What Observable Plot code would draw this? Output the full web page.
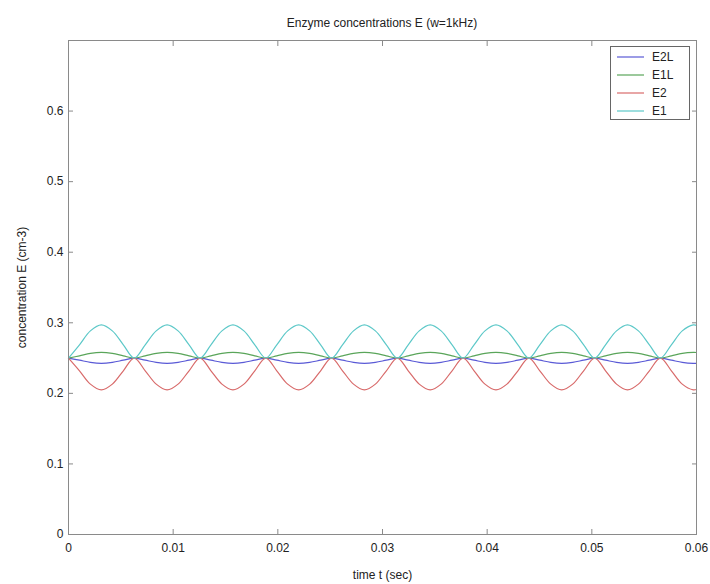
<!DOCTYPE html>
<html><head><meta charset="utf-8">
<script src="https://cdn.jsdelivr.net/npm/d3@7"></script>
<script src="https://cdn.jsdelivr.net/npm/@observablehq/plot@0.6"></script>
<style>
body{margin:0;background:#fff;font-family:"Liberation Sans",Arial,Helvetica,sans-serif;}
#wrap{position:relative;width:710px;height:584px;overflow:hidden;}
#title{position:absolute;left:68px;width:628px;top:16px;text-align:center;font-size:12px;color:#222;}
#legend{position:absolute;left:610px;top:46px;width:78px;height:72px;border:1px solid #666;background:#fff;}
#legend svg{display:block;}
</style></head>
<body>
<div id="wrap">
<div id="chart"></div>
<div id="title">Enzyme concentrations E (w=1kHz)</div>
<div id="legend"></div>
</div>
<script>
const t = [
  0, 0.00105, 0.00209, 0.00314, 0.00419, 0.00524,
  0.00628, 0.00733, 0.00838, 0.00942, 0.01047, 0.01152,
  0.01257, 0.01361, 0.01466, 0.01571, 0.01676, 0.0178,
  0.01885, 0.0199, 0.02094, 0.02199, 0.02304, 0.02409,
  0.02513, 0.02618, 0.02723, 0.02827, 0.02932, 0.03037,
  0.03142, 0.03246, 0.03351, 0.03456, 0.0356, 0.03665,
  0.0377, 0.03875, 0.03979, 0.04084, 0.04189, 0.04294,
  0.04398, 0.04503, 0.04608, 0.04712, 0.04817, 0.04922,
  0.05027, 0.05131, 0.05236, 0.05341, 0.05445, 0.0555,
  0.05655, 0.0576, 0.05864, 0.05969, 0.06
];
const E2L = [
  0.25, 0.247, 0.2439, 0.2425, 0.2439, 0.247,
  0.25, 0.247, 0.2439, 0.2425, 0.2439, 0.247,
  0.25, 0.247, 0.2439, 0.2425, 0.2439, 0.247,
  0.25, 0.247, 0.2439, 0.2425, 0.2439, 0.247,
  0.25, 0.247, 0.2439, 0.2425, 0.2439, 0.247,
  0.25, 0.247, 0.2439, 0.2425, 0.2439, 0.247,
  0.25, 0.247, 0.2439, 0.2425, 0.2439, 0.247,
  0.25, 0.247, 0.2439, 0.2425, 0.2439, 0.247,
  0.25, 0.247, 0.2439, 0.2425, 0.2439, 0.247,
  0.25, 0.247, 0.2439, 0.2425, 0.2426
];
const E1L = [
  0.25, 0.2532, 0.2566, 0.258, 0.2566, 0.2532,
  0.25, 0.2532, 0.2566, 0.258, 0.2566, 0.2532,
  0.25, 0.2532, 0.2566, 0.258, 0.2566, 0.2532,
  0.25, 0.2532, 0.2566, 0.258, 0.2566, 0.2532,
  0.25, 0.2532, 0.2566, 0.258, 0.2566, 0.2532,
  0.25, 0.2532, 0.2566, 0.258, 0.2566, 0.2532,
  0.25, 0.2532, 0.2566, 0.258, 0.2566, 0.2532,
  0.25, 0.2532, 0.2566, 0.258, 0.2566, 0.2532,
  0.25, 0.2532, 0.2566, 0.258, 0.2566, 0.2532,
  0.25, 0.2532, 0.2566, 0.258, 0.2579
];
const E2 = [
  0.25, 0.232, 0.2131, 0.205, 0.2131, 0.232,
  0.25, 0.232, 0.2131, 0.205, 0.2131, 0.232,
  0.25, 0.232, 0.2131, 0.205, 0.2131, 0.232,
  0.25, 0.232, 0.2131, 0.205, 0.2131, 0.232,
  0.25, 0.232, 0.2131, 0.205, 0.2131, 0.232,
  0.25, 0.232, 0.2131, 0.205, 0.2131, 0.232,
  0.25, 0.232, 0.2131, 0.205, 0.2131, 0.232,
  0.25, 0.232, 0.2131, 0.205, 0.2131, 0.232,
  0.25, 0.232, 0.2131, 0.205, 0.2131, 0.232,
  0.25, 0.232, 0.2131, 0.205, 0.2055
];
const E1 = [
  0.25, 0.2688, 0.2885, 0.297, 0.2885, 0.2688,
  0.25, 0.2688, 0.2885, 0.297, 0.2885, 0.2688,
  0.25, 0.2688, 0.2885, 0.297, 0.2885, 0.2688,
  0.25, 0.2688, 0.2885, 0.297, 0.2885, 0.2688,
  0.25, 0.2688, 0.2885, 0.297, 0.2885, 0.2688,
  0.25, 0.2688, 0.2885, 0.297, 0.2885, 0.2688,
  0.25, 0.2688, 0.2885, 0.297, 0.2885, 0.2688,
  0.25, 0.2688, 0.2885, 0.297, 0.2885, 0.2688,
  0.25, 0.2688, 0.2885, 0.297, 0.2885, 0.2688,
  0.25, 0.2688, 0.2885, 0.297, 0.2964
];
const seriesNames = ["E2L", "E1L", "E2", "E1"];
const seriesColors = ["#5a5ad6", "#5aa55a", "#d86a6a", "#5cc8c8"];
const xTicks = [0, 0.01, 0.02, 0.03, 0.04, 0.05, 0.06];
const yTicks = [0, 0.1, 0.2, 0.3, 0.4, 0.5, 0.6];

const seriesValues = [E2L, E1L, E2, E1];
const rows = seriesValues.map(vals => t.map((tt, j) => ({t: tt, v: vals[j]})));
const axisColor = "#8a8a8a";
const fmt = d => String(d);

const chart = Plot.plot({
  width: 710, height: 584,
  marginLeft: 68, marginRight: 14, marginTop: 40, marginBottom: 50,
  style: {fontFamily: '"Liberation Sans", Arial, Helvetica, sans-serif', fontSize: "12px", color: "#222", background: "#fff", overflow: "visible"},
  x: {domain: [0, 0.06]},
  y: {domain: [0, 0.7]},
  marks: [
    Plot.axisX(xTicks, {anchor: "bottom", tickSize: 0, tickPadding: 9, tickFormat: fmt, label: "time t (sec)", labelAnchor: "center", labelArrow: "none", labelOffset: 44}),
    Plot.axisX(xTicks, {anchor: "bottom", tickSize: -5, tickFormat: () => "", label: null, stroke: axisColor}),
    Plot.axisX(xTicks, {anchor: "top", tickSize: -5, tickFormat: () => "", label: null, stroke: axisColor}),
    Plot.axisY(yTicks, {anchor: "left", tickSize: 0, tickPadding: 5, tickFormat: fmt, label: "concentration E (cm-3)", labelAnchor: "center", labelArrow: "none", labelOffset: 51}),
    Plot.axisY(yTicks, {anchor: "left", tickSize: -5, tickFormat: () => "", label: null, stroke: axisColor}),
    Plot.axisY(yTicks, {anchor: "right", tickSize: -5, tickFormat: () => "", label: null, stroke: axisColor}),
    ...rows.map((r, i) => Plot.line(r, {x: "t", y: "v", stroke: seriesColors[i], strokeWidth: 1.2, curve: "catmull-rom"})),
    Plot.frame({stroke: axisColor})
  ]
});
document.getElementById("chart").appendChild(chart);

// legend
const lg = d3.select("#legend").append("svg").attr("width", 78).attr("height", 72);
seriesNames.forEach((n, i) => {
  const y = 10 + i * 18;
  lg.append("line").attr("x1", 6).attr("x2", 33).attr("y1", y).attr("y2", y)
    .attr("stroke", seriesColors[i]).attr("stroke-width", 1.2);
  lg.append("text").attr("x", 41).attr("y", y).attr("dy", "0.35em")
    .attr("font-size", 12).attr("fill", "#222")
    .attr("font-family", '"Liberation Sans", Arial, sans-serif').text(n);
});
</script>
</body></html>
